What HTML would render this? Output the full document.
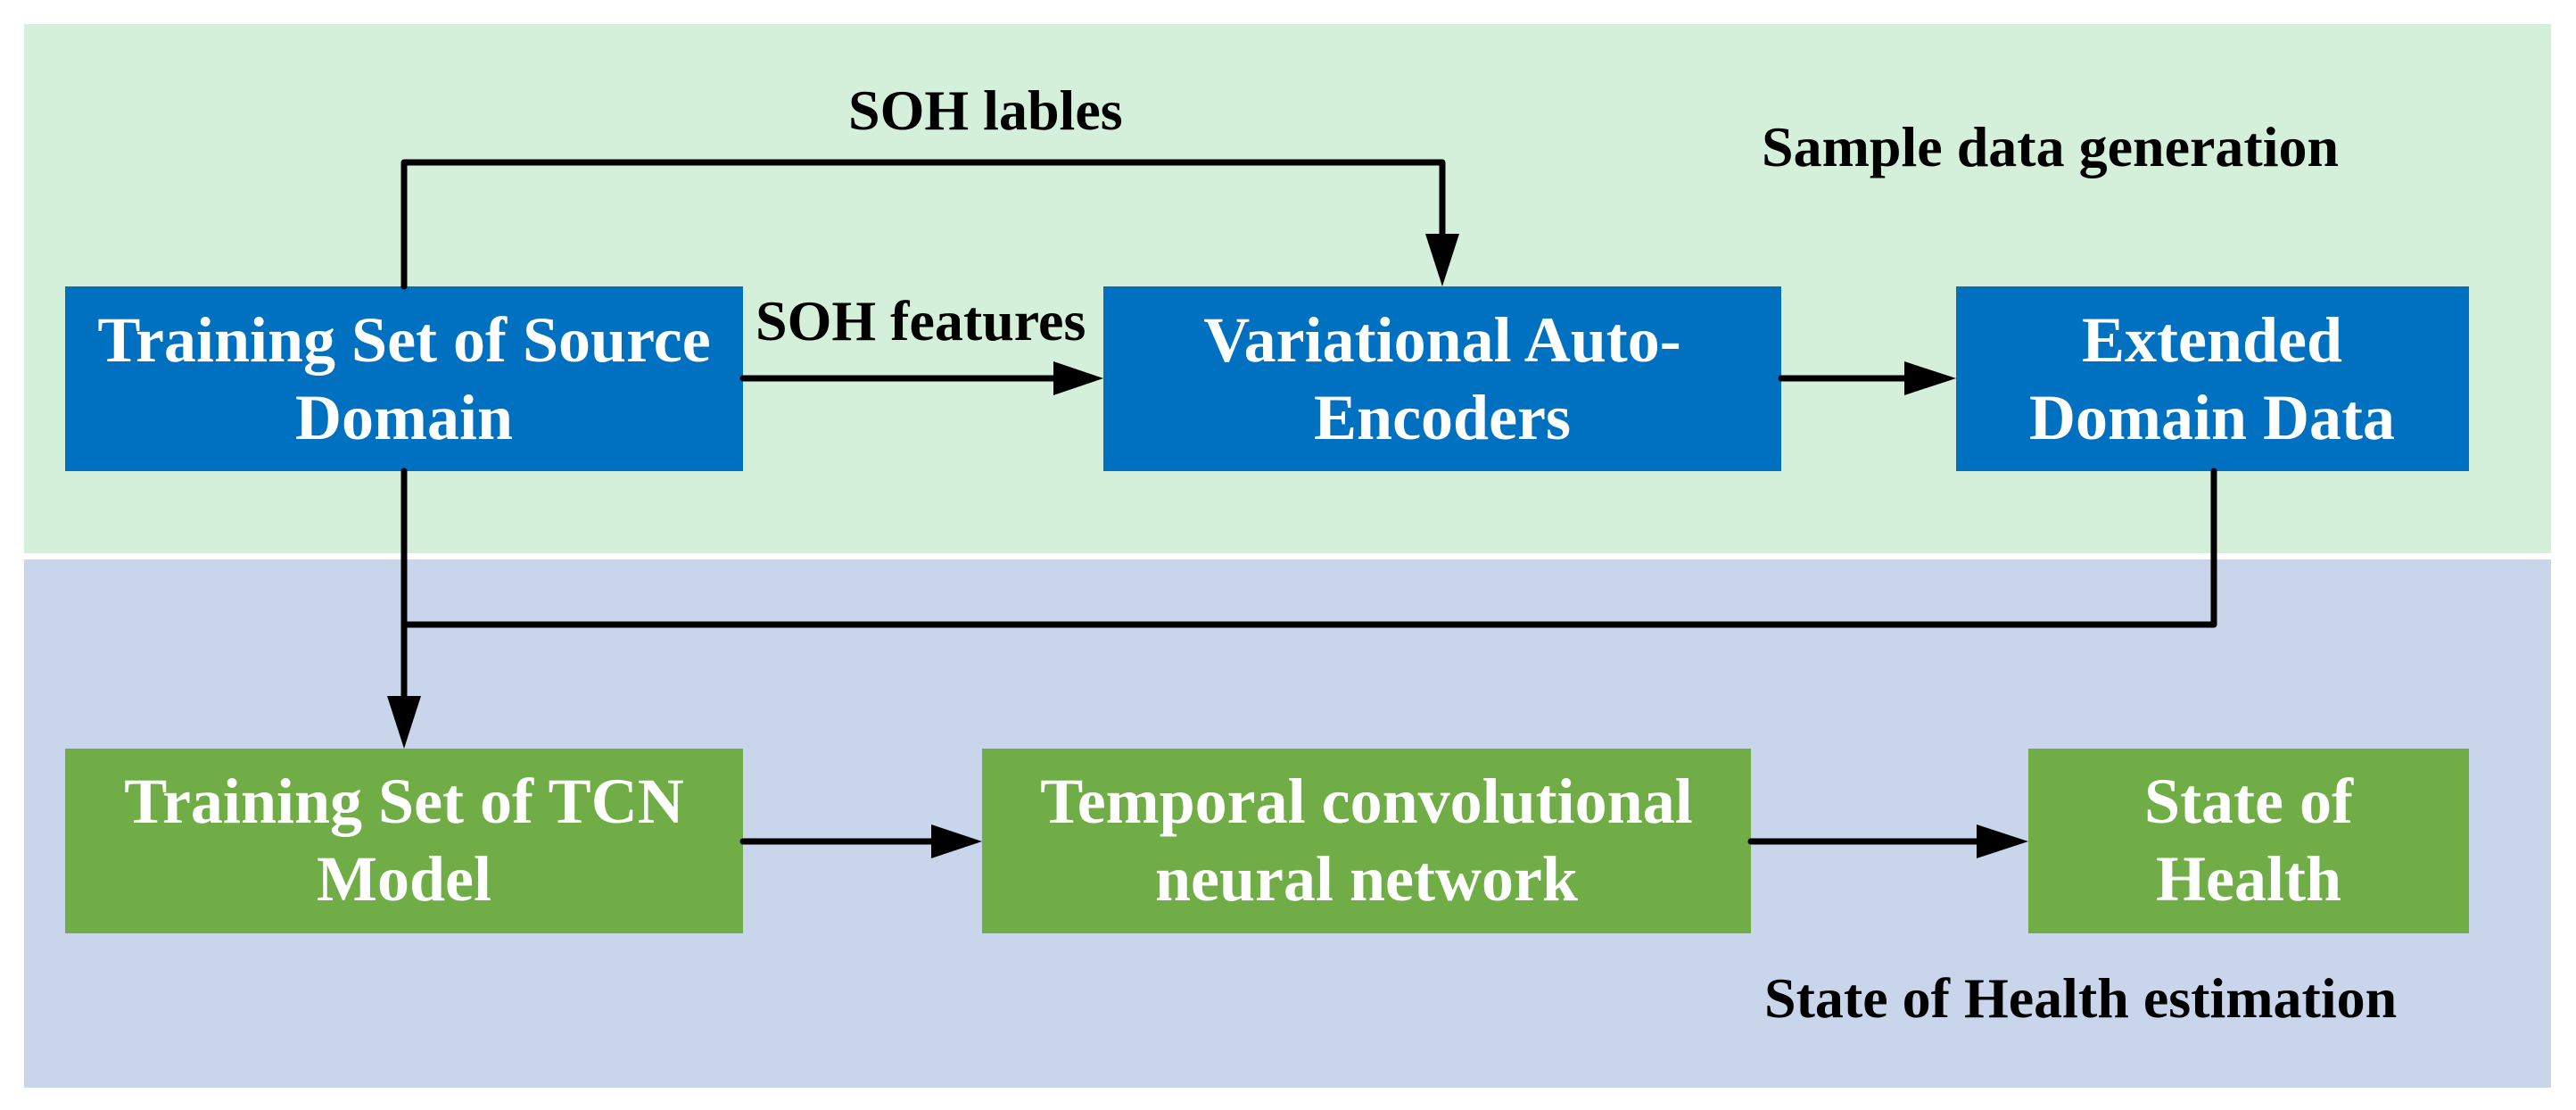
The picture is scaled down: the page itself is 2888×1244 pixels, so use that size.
<!DOCTYPE html>
<html><head><meta charset="utf-8"><style>
html,body{margin:0;padding:0;background:#fff;}
svg{display:block;}
text{font-family:"Liberation Serif",serif;font-weight:bold;}
</style></head><body>
<svg width="2888" height="1244" viewBox="0 0 2888 1244" xmlns="http://www.w3.org/2000/svg">
<rect x="0" y="0" width="2888" height="1244" fill="#fff"/>
<rect x="27" y="27" width="2833" height="593" fill="#D5F0DA"/>
<rect x="27" y="627" width="2833" height="592" fill="#C9D5EA"/>

<g fill="#0070C0">
<rect x="73" y="321" width="760" height="207"/>
<rect x="1237" y="321" width="760" height="207"/>
<rect x="2193" y="321" width="575" height="207"/>
</g>
<g fill="#70AD47">
<rect x="73" y="839" width="760" height="207"/>
<rect x="1101" y="839" width="862" height="207"/>
<rect x="2274" y="839" width="494" height="207"/>
</g>

<g stroke="#000" stroke-width="7" fill="none" stroke-linecap="round" stroke-linejoin="round">
<polyline points="453,321 453,182 1617,182 1617,265"/>
<line x1="833" y1="424" x2="1185" y2="424"/>
<line x1="1997" y1="424" x2="2140" y2="424"/>
<line x1="453" y1="528" x2="453" y2="785"/>
<polyline points="2482,528 2482,700 453,700"/>
<line x1="833" y1="943" x2="1048" y2="943"/>
<line x1="1963" y1="943" x2="2220" y2="943"/>
</g>
<g fill="#000">
<polygon points="1598,262 1636,262 1617,321"/>
<polygon points="1181,405 1181,443 1237,424"/>
<polygon points="2135,405 2135,443 2193,424"/>
<polygon points="434,780 472,780 453,839"/>
<polygon points="1044,924 1044,962 1101,943"/>
<polygon points="2216,924 2216,962 2274,943"/>
</g>

<g fill="#fff" font-size="72" text-anchor="middle">
<text x="453" y="405">Training Set of Source</text>
<text x="453" y="492">Domain</text>
<text x="1617" y="405">Variational Auto-</text>
<text x="1617" y="492">Encoders</text>
<text x="2480" y="405">Extended</text>
<text x="2480" y="492">Domain Data</text>
<text x="453" y="922">Training Set of TCN</text>
<text x="453" y="1009">Model</text>
<text x="1532" y="922">Temporal convolutional</text>
<text x="1532" y="1009">neural network</text>
<text x="2521" y="922">State of</text>
<text x="2521" y="1009">Health</text>
</g>

<g fill="#000" font-size="64">
<text x="951" y="145">SOH lables</text>
<text x="847" y="381">SOH features</text>
<text x="1975" y="186">Sample data generation</text>
<text x="1978" y="1140">State of Health estimation</text>
</g>
</svg>
</body></html>
